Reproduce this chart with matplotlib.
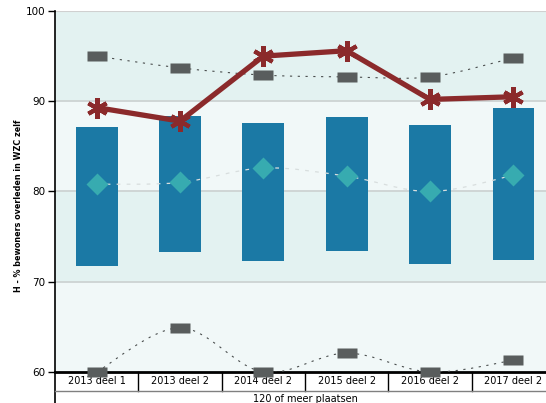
import numpy as np
import matplotlib
matplotlib.use('Agg')
import matplotlib.pyplot as plt
from matplotlib.path import Path
from matplotlib.patches import PathPatch

plt.rcParams.update({'font.size': 7.5, 'font.family': 'DejaVu Sans'})

periods = ['2013 deel 1', '2013 deel 2', '2014 deel 2',
           '2015 deel 2', '2016 deel 2', '2017 deel 2']
group_label = '120 of meer plaatsen'
bar_low = [71.8, 73.3, 72.3, 73.4, 72.0, 72.4]
bar_high = [87.2, 88.4, 87.6, 88.3, 87.4, 89.3]
mean_vals = [80.8, 81.0, 82.6, 81.7, 80.0, 81.8]
facility = [89.3, 87.8, 95.0, 95.6, 90.2, 90.5]
max_vals = [95.0, 93.7, 92.9, 92.7, 92.7, 94.8]
min_vals = [60.0, 64.9, 60.0, 62.1, 60.0, 61.3]
y_label = 'H - % bewoners overleden in WZC zelf'


def smooth_path(xs, ys):
    # catmull-rom style bezier through the points
    pts = np.column_stack([xs, ys]).astype(float)
    verts = [pts[0]]
    codes = [Path.MOVETO]
    n = len(pts)
    for i in range(n - 1):
        p0 = pts[max(i - 1, 0)]
        p1 = pts[i]
        p2 = pts[i + 1]
        p3 = pts[min(i + 2, n - 1)]
        c1 = p1 + (p2 - p0) / 6
        c2 = p2 - (p3 - p1) / 6
        verts += [c1, c2, p2]
        codes += [Path.CURVE4] * 3
    return Path(verts, codes)


fig = plt.figure(figsize=(5.46, 4.03), dpi=100)
ax = fig.add_axes([55 / 546, 31 / 403, 500 / 546, 361 / 403])
x = np.arange(len(periods))

# background bands
for lo, hi, col in [(90, 100, '#e3f2f1'), (80, 90, '#f1f8f8'),
                    (70, 80, '#e3f2f1'), (60, 70, '#f1f8f8')]:
    ax.axhspan(lo, hi, color=col, zorder=0, lw=0)
for yv in [70, 80, 90]:
    ax.axhline(yv, color='#cdd3d3', lw=1.3, zorder=1)
ax.axhline(100, color='#d0d0d0', lw=1.5, zorder=1)

heights = np.array(bar_high) - np.array(bar_low)
ax.bar(x, heights, bottom=bar_low, width=0.5, color='#1b79a5', zorder=2)

ax.add_patch(PathPatch(smooth_path(x, mean_vals), fill=False, ec='#d8dede',
                       lw=0.9, ls=(0, (3, 5)), zorder=3))
ax.add_patch(PathPatch(smooth_path(x, max_vals), fill=False, ec='#4a4e4e',
                       lw=0.8, ls=(0, (2, 5)), zorder=3))
ax.add_patch(PathPatch(smooth_path(x, min_vals), fill=False, ec='#4a4e4e',
                       lw=0.8, ls=(0, (2, 5)), zorder=3))

ax.plot(x, mean_vals, ls='none', marker='D', ms=11, color='#37abb0',
        mec='none', zorder=4)

rect = [(-1, -0.5), (1, -0.5), (1, 0.5), (-1, 0.5), (-1, -0.5)]
ax.plot(x, max_vals, ls='none', marker=rect, ms=15, color='#595d5d',
        mec='none', zorder=5)
ax.plot(x, min_vals, ls='none', marker=rect, ms=15, color='#595d5d',
        mec='none', zorder=6, clip_on=False)

ax.plot(x, facility, color='#8b2a2b', lw=3.8, zorder=7,
        marker=(6, 2, 0), ms=15, mew=3, mec='#8b2a2b',
        solid_capstyle='round')

ax.set_xlim(-0.5, len(periods) - 0.5)
ax.set_ylim(60, 100)
ax.set_yticks([60, 70, 80, 90, 100])
ax.set_xticks([])
ax.tick_params(axis='y', length=5, width=1, colors='black', labelsize=7.5,
               pad=2)
for s in ['top', 'right']:
    ax.spines[s].set_visible(False)
ax.spines['bottom'].set_linewidth(2)
ax.spines['left'].set_linewidth(1.2)
ax.spines['left'].set_bounds(60, 100)

# category table below the axis
tr = ax.get_xaxis_transform()
row_h = 19 / 361
ax.plot([-0.5, -0.5], [0, -31 / 361], transform=tr, color='black', lw=1.2,
        clip_on=False)
for b in np.arange(0.5, len(periods) - 0.5, 1):
    ax.plot([b, b], [0, -row_h], transform=tr, color='black', lw=1,
            clip_on=False)
ax.plot([-0.5, len(periods) - 0.5], [-row_h, -row_h], transform=tr,
        color='#808080', lw=1, clip_on=False)
for xi, lab in zip(x, periods):
    ax.text(xi, -row_h / 2, lab, transform=tr, ha='center', va='center',
            fontsize=7)
ax.text((len(periods) - 1) / 2, -row_h - 8 / 361, group_label, transform=tr,
        ha='center', va='center', fontsize=7)

ax.set_ylabel(y_label, fontsize=5.8, fontweight='bold',
              family=['Liberation Sans Narrow', 'DejaVu Sans'])
ax.yaxis.set_label_coords(-32 / 500, (372 - 206) / 361)

fig.savefig('out.png', dpi=100)
